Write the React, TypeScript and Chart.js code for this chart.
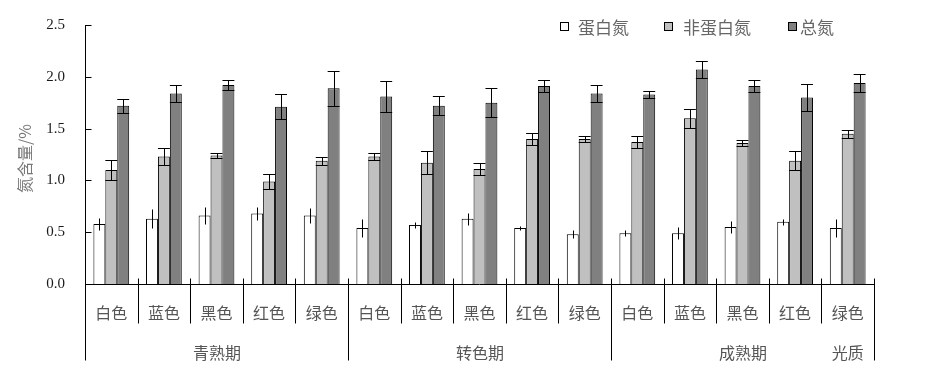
import React, { useEffect, useRef } from "react";
import { Chart, registerables } from "chart.js";

Chart.register(...registerables);

const colorNames = ["白色", "蓝色", "黑色", "红色", "绿色"];
const stages = ["青熟期", "转色期", "成熟期"];
const axisName = "光质";
const seriesNames = ["蛋白氮", "非蛋白氮", "总氮"];
const yTitle = "氮含量/%";
const yTicks = [0, 0.5, 1.0, 1.5, 2.0, 2.5];

const protein = [0.58, 0.63, 0.66, 0.68, 0.66, 0.54, 0.57, 0.63, 0.54, 0.48, 0.49, 0.49, 0.55, 0.6, 0.54];
const proteinErr = [0.06, 0.09, 0.08, 0.06, 0.07, 0.09, 0.03, 0.06, 0.02, 0.04, 0.03, 0.06, 0.06, 0.03, 0.09];
const nonProtein = [1.1, 1.23, 1.24, 0.99, 1.19, 1.23, 1.17, 1.11, 1.4, 1.4, 1.37, 1.6, 1.36, 1.19, 1.45];
const nonProteinErr = [0.1, 0.08, 0.02, 0.07, 0.04, 0.03, 0.11, 0.06, 0.06, 0.03, 0.06, 0.09, 0.03, 0.09, 0.04];
const total = [1.72, 1.84, 1.92, 1.71, 1.89, 1.81, 1.72, 1.75, 1.91, 1.84, 1.83, 2.07, 1.91, 1.8, 1.94];
const totalErr = [0.07, 0.08, 0.05, 0.12, 0.17, 0.15, 0.09, 0.14, 0.06, 0.08, 0.03, 0.08, 0.06, 0.13, 0.09];

const fills = ["#ffffff", "#c0c0c0", "#808080"];
const errs = [proteinErr, nonProteinErr, totalErr];
const withCaps = [false, true, true];

const labels = stages.flatMap((s) => colorNames.map((c) => `${s}-${c}`));

const CJK = '"Noto Sans CJK SC", sans-serif';
const SERIF = '"Liberation Serif", "DejaVu Serif", serif';

const customPlugin = {
  id: "custom",
  afterDatasetsDraw(chart: any) {
    const ctx = chart.ctx;
    const y = chart.scales.y;
    const x = chart.scales.x;
    const area = chart.chartArea;
    ctx.save();
    // error bars
    ctx.strokeStyle = "#000";
    ctx.lineWidth = 1;
    chart.data.datasets.forEach((ds: any, d: number) => {
      const meta = chart.getDatasetMeta(d);
      meta.data.forEach((el: any, i: number) => {
        const v = ds.data[i];
        const e = errs[d][i];
        const cx = Math.round(el.x) + 0.5;
        const yt = Math.round(y.getPixelForValue(v + e)) + 0.5;
        const yb = Math.round(y.getPixelForValue(v - e)) + 0.5;
        ctx.beginPath();
        ctx.moveTo(cx, yt);
        ctx.lineTo(cx, yb);
        if (withCaps[d]) {
          const hw = el.width / 2;
          ctx.moveTo(el.x - hw, yt);
          ctx.lineTo(el.x + hw, yt);
          ctx.moveTo(el.x - hw, yb);
          ctx.lineTo(el.x + hw, yb);
        }
        ctx.stroke();
      });
    });
    // y axis line, inward ticks and labels
    const left = Math.round(area.left) + 0.5;
    ctx.beginPath();
    ctx.moveTo(left, area.top);
    ctx.lineTo(left, area.bottom);
    yTicks.forEach((v) => {
      const py = Math.round(y.getPixelForValue(v)) + 0.5;
      ctx.moveTo(left, py);
      ctx.lineTo(left + 6, py);
    });
    ctx.stroke();
    ctx.fillStyle = "#1a1a1a";
    ctx.font = `15px ${SERIF}`;
    ctx.textAlign = "right";
    ctx.textBaseline = "middle";
    yTicks.forEach((v) => {
      ctx.fillText(v.toFixed(1), area.left - 20, y.getPixelForValue(v));
    });
    // x axis line
    const base = Math.round(area.bottom) + 0.5;
    ctx.beginPath();
    ctx.moveTo(area.left, base);
    ctx.lineTo(area.right, base);
    ctx.stroke();
    // category boundaries
    const n = labels.length;
    const bounds: number[] = [];
    for (let i = 0; i <= n; i++) {
      let bx;
      if (i === 0) bx = area.left;
      else if (i === n) bx = area.right;
      else bx = (x.getPixelForValue(i - 1) + x.getPixelForValue(i)) / 2;
      bounds.push(Math.round(bx) + 0.5);
    }
    ctx.beginPath();
    bounds.forEach((bx, i) => {
      const major = i % colorNames.length === 0;
      ctx.moveTo(bx, i === 0 ? base : base - 6);
      ctx.lineTo(bx, major ? base + 76 : base + 39);
    });
    ctx.stroke();
    // category labels
    ctx.fillStyle = "#555";
    ctx.textAlign = "center";
    ctx.textBaseline = "middle";
    ctx.font = `16px ${CJK}`;
    labels.forEach((_, i) => {
      const cx = x.getPixelForValue(i);
      ctx.fillText(colorNames[i % colorNames.length], cx, base + 28);
    });
    stages.forEach((s, k) => {
      const a = bounds[k * colorNames.length];
      const b = bounds[(k + 1) * colorNames.length];
      ctx.fillText(s, (a + b) / 2, base + 68);
    });
    ctx.fillText(axisName, x.getPixelForValue(n - 1), base + 68);
    // y title
    ctx.save();
    ctx.translate(25, (area.top + area.bottom) / 2 + 4);
    ctx.rotate(-Math.PI / 2);
    ctx.fillStyle = "#777";
    ctx.font = `16px ${CJK}`;
    ctx.fillText(yTitle, 0, 0);
    ctx.restore();
    // legend
    const lx = [560, 664, 788];
    const tx = [578, 683, 800];
    ctx.font = `17px ${CJK}`;
    ctx.textAlign = "left";
    seriesNames.forEach((name, k) => {
      ctx.fillStyle = fills[k];
      ctx.fillRect(lx[k] + 0.5, 22.5, 8, 8);
      ctx.strokeStyle = "#000";
      ctx.strokeRect(lx[k] + 0.5, 22.5, 8, 8);
      ctx.fillStyle = "#666";
      ctx.fillText(name, tx[k], 28);
    });
    ctx.restore();
  },
};

export default function App() {
  const ref = useRef<HTMLCanvasElement>(null);
  useEffect(() => {
    document.body.style.margin = "0";
    const canvas = ref.current!;
    const chart = new Chart(canvas, {
      type: "bar",
      data: {
        labels,
        datasets: [protein, nonProtein, total].map((data, d) => ({
          label: seriesNames[d],
          data,
          backgroundColor: fills[d],
          borderColor: "#000",
          borderWidth: 1,
          categoryPercentage: 0.68,
          barPercentage: 1.0,
        })),
      },
      options: {
        responsive: false,
        animation: false,
        devicePixelRatio: 1,
        layout: { padding: { left: 85, right: 55, top: 25, bottom: 83 } },
        plugins: { legend: { display: false }, tooltip: { enabled: false } },
        scales: {
          x: { display: false },
          y: { display: false, min: 0, max: 2.5 },
        },
      },
      plugins: [customPlugin],
    });
    return () => chart.destroy();
  }, []);
  return <canvas ref={ref} width={929} height={367} style={{ display: "block" }} />;
}
